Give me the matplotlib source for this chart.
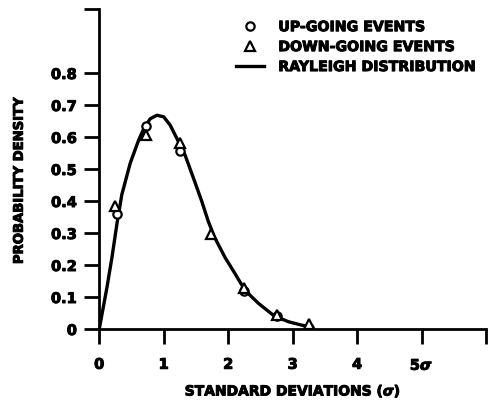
import matplotlib
matplotlib.use('Agg')
import matplotlib.pyplot as plt
import matplotlib.patheffects as pe

plt.rcParams['font.family'] = ['DejaVu Sans']
plt.rcParams['font.weight'] = 'bold'
plt.rcParams['mathtext.default'] = 'it'

# puntos (curva dibujada)
curva_x = [0.0, 0.12, 0.197, 0.275, 0.35, 0.48, 0.61, 0.69, 0.79, 0.895, 1.0, 1.10,
           1.205, 1.33, 1.48, 1.59, 1.69, 1.79, 1.95, 2.10, 2.26, 2.47, 2.70, 2.93,
           3.14, 3.27]
curva_y = [0.0, 0.131, 0.224, 0.33, 0.42, 0.518, 0.59, 0.626, 0.657, 0.668, 0.663,
           0.637, 0.595, 0.544, 0.461, 0.399, 0.337, 0.286, 0.224, 0.175, 0.121, 0.080,
           0.043, 0.023, 0.012, 0.007]

sube_x = [0.27, 0.72, 1.25, 2.25, 2.75, 3.25]
sube_y = [0.358, 0.635, 0.556, 0.12, 0.04, 0.003]

baja_x = [0.25, 0.73, 1.25, 1.74, 2.25, 2.75, 3.25]
baja_y = [0.384, 0.606, 0.58, 0.298, 0.127, 0.045, 0.015]

xticks = [0, 1, 2, 3, 4, 5, 6]
xlabels = ['0', '1', '2', '3', '4', r'5$\sigma$', '']
yticks = [0, 0.1, 0.2, 0.3, 0.4, 0.5, 0.6, 0.7, 0.8, 1.0]
ylabels = ['0', '0.1', '0.2', '0.3', '0.4', '0.5', '0.6', '0.7', '0.8', '']

grueso = [pe.withStroke(linewidth=0.7, foreground='black')]

fig = plt.figure(figsize=(4.89, 4.0), dpi=100)
ax = fig.add_axes([0.203, 0.1775, 0.791, 0.8])

ax.plot(curva_x, curva_y, color='black', lw=2.4, solid_joinstyle='round',
        label='RAYLEIGH DISTRIBUTION', zorder=2)
ax.plot(sube_x, sube_y, 'o', ms=6, mfc='white', mec='black', mew=1.6,
        label='UP-GOING EVENTS', zorder=3)
ax.plot(baja_x, baja_y, '^', ms=6.5, mfc='white', mec='black', mew=1.6,
        label='DOWN-GOING EVENTS', zorder=3)

ax.set_xlim(0, 6)
ax.set_ylim(0, 0.99)
for s in ['top', 'right']:
    ax.spines[s].set_visible(False)
for s in ['left', 'bottom']:
    ax.spines[s].set_linewidth(2.0)
    ax.spines[s].set_position(('data', 0))

ax.set_xticks(xticks)
ax.set_xticklabels(xlabels)
ax.set_yticks(yticks)
ax.set_yticklabels(ylabels)
ax.tick_params(direction='out', length=11, width=2.0, labelsize=10.5, pad=5)
ax.tick_params(axis='x', pad=9)

ax.set_xlabel('STANDARD DEVIATIONS ($\\sigma$)', fontsize=10, fontweight='bold', labelpad=7)
ax.set_ylabel('PROBABILITY DENSITY', fontsize=9.5, fontweight='bold')
ax.yaxis.set_label_coords(-0.19, 0.465)

h, l = ax.get_legend_handles_labels()
leg = ax.legend([h[1], h[2], h[0]], [l[1], l[2], l[0]], loc='upper left',
                bbox_to_anchor=(0.32, 1.005), frameon=False, fontsize=10.2,
                handlelength=2.0, labelspacing=0.42, handletextpad=1.0)

for t in ax.get_xticklabels() + ax.get_yticklabels() + leg.get_texts():
    t.set_path_effects(grueso)
ax.xaxis.label.set_path_effects(grueso)
ax.yaxis.label.set_path_effects(grueso)

fig.savefig('out.png', dpi=100)
